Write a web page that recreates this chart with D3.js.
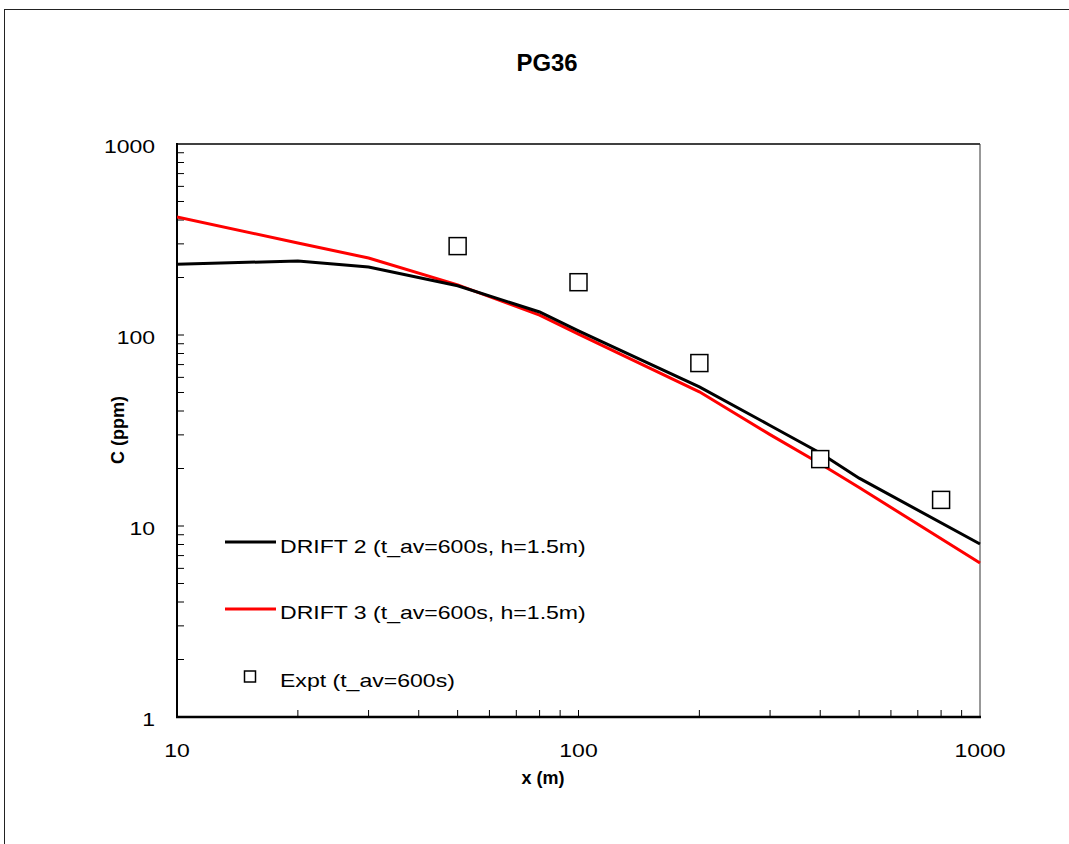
<!DOCTYPE html>
<html><head><meta charset="utf-8">
<script src="https://cdn.jsdelivr.net/npm/d3@7"></script>
<style>body{margin:0;background:#fff}svg{display:block}text{font-family:"Liberation Sans",Arial,sans-serif}</style>
</head><body>
<svg id="c" width="1069" height="844"></svg>
<script>
const drift2X = [10, 20, 30, 50, 80, 100, 200, 300, 400, 500, 1000];
const drift2Y = [235, 244, 227, 181, 132, 105, 53.5, 33.6, 24.1, 17.8, 8.05];
const drift3X = [10, 20, 30, 50, 80, 100, 200, 300, 400, 500, 1000];
const drift3Y = [415, 303, 253, 183, 127, 101, 50.4, 30.1, 21.2, 15.9, 6.4];
const exptX = [50, 100, 200, 400, 800];
const exptY = [292, 189, 71.3, 22.4, 13.7];
const xTickLabels = [10, 100, 1000];
const yTickLabels = [1, 10, 100, 1000];
const legendLabels = ["DRIFT 2 (t_av=600s, h=1.5m)", "DRIFT 3 (t_av=600s, h=1.5m)", "Expt (t_av=600s)"];

const svg = d3.select("#c");
const L = 177, R = 980, T = 144, B = 717;
const x = d3.scaleLog().domain([10, 1000]).range([L, R]);
const y = d3.scaleLog().domain([1, 1000]).range([B, T]);

function stext(g, px, py, str, size, anchor, bold, rot, sx) {
  const t = g.append("g").attr("transform", `translate(${px},${py})` + (rot ? ` rotate(${rot})` : "") + ` scale(${sx || 1},1)`)
    .append("text").attr("x", 0).attr("y", 0).attr("text-anchor", anchor).attr("font-size", size).text(str);
  if (bold) t.attr("font-weight", "bold");
  return t;
}

// outer frame
svg.append("rect").attr("x", 4.5).attr("y", 9.5).attr("width", 1100).attr("height", 900)
  .attr("fill", "none").attr("stroke", "#222").attr("stroke-width", 1);

// title
stext(svg, 547, 71, "PG36", 23, "middle", true, 0, 1.04);

// minor ticks
const minorX = [];
[10, 100].forEach(d => { for (let k = 2; k <= 9; k++) minorX.push(d * k); });
const minorY = [];
[1, 10, 100].forEach(d => { for (let k = 2; k <= 9; k++) minorY.push(d * k); });

svg.append("g").selectAll("line").data(minorX.concat([100])).enter().append("line")
  .attr("x1", d => x(d)).attr("x2", d => x(d)).attr("y1", B).attr("y2", B - 7)
  .attr("stroke", "#000").attr("stroke-width", 1);
svg.append("g").selectAll("line").data(minorY.concat([10, 100])).enter().append("line")
  .attr("y1", d => y(d)).attr("y2", d => y(d)).attr("x1", L).attr("x2", L + 7)
  .attr("stroke", "#000").attr("stroke-width", 1);

// axes frame
svg.append("line").attr("x1", L).attr("x2", R).attr("y1", T).attr("y2", T).attr("stroke", "#000").attr("stroke-width", 1.5);
svg.append("line").attr("x1", R).attr("x2", R).attr("y1", T).attr("y2", B).attr("stroke", "#333").attr("stroke-width", 1);
svg.append("line").attr("x1", L).attr("x2", L).attr("y1", T - 1).attr("y2", B + 1).attr("stroke", "#000").attr("stroke-width", 2);
svg.append("line").attr("x1", L - 1).attr("x2", R + 1).attr("y1", B).attr("y2", B).attr("stroke", "#000").attr("stroke-width", 2.5);

// tick labels
xTickLabels.forEach(d => stext(svg, x(d), B + 40, String(d), 19, "middle", false, 0, 1.21));
yTickLabels.forEach(d => stext(svg, L - 22, y(d) + 9, String(d), 19, "end", false, 0, 1.21));

// axis titles
stext(svg, 543, 784, "x (m)", 18, "middle", true);
stext(svg, 124, 430, "C (ppm)", 18, "middle", true, -90);

// lines
svg.append("clipPath").attr("id", "pc").append("rect")
  .attr("x", L).attr("y", T).attr("width", R - L + 1).attr("height", B - T);
const line = d3.line().x(d => x(d[0])).y(d => y(d[1]));
svg.append("path").datum(drift3X.map((v, i) => [v, drift3Y[i]])).attr("d", line)
  .attr("fill", "none").attr("stroke", "#ff0000").attr("stroke-width", 3).attr("clip-path", "url(#pc)");
svg.append("path").datum(drift2X.map((v, i) => [v, drift2Y[i]])).attr("d", line)
  .attr("fill", "none").attr("stroke", "#000").attr("stroke-width", 3).attr("clip-path", "url(#pc)");

// expt markers
const s = 17;
svg.selectAll("rect.pt").data(exptX.map((v, i) => [v, exptY[i]])).enter().append("rect")
  .attr("x", d => x(d[0]) - s / 2).attr("y", d => y(d[1]) - s / 2).attr("width", s).attr("height", s)
  .attr("fill", "#fff").attr("stroke", "#000").attr("stroke-width", 1.5);

// legend
const lg = svg.append("g");
const legY = [542, 609, 677];
lg.append("line").attr("x1", 225).attr("x2", 276).attr("y1", legY[0]).attr("y2", legY[0]).attr("stroke", "#000").attr("stroke-width", 3);
lg.append("line").attr("x1", 225).attr("x2", 276).attr("y1", legY[1]).attr("y2", legY[1]).attr("stroke", "#ff0000").attr("stroke-width", 3);
lg.append("rect").attr("x", 244.5).attr("y", legY[2] - 6).attr("width", 11).attr("height", 11)
  .attr("fill", "#fff").attr("stroke", "#000").attr("stroke-width", 1.5);
legendLabels.forEach((d, i) => stext(lg, 280, legY[i] + [11, 10, 10][i], d, 18.6, "start", false, 0, 1.24));
</script>
</body></html>
